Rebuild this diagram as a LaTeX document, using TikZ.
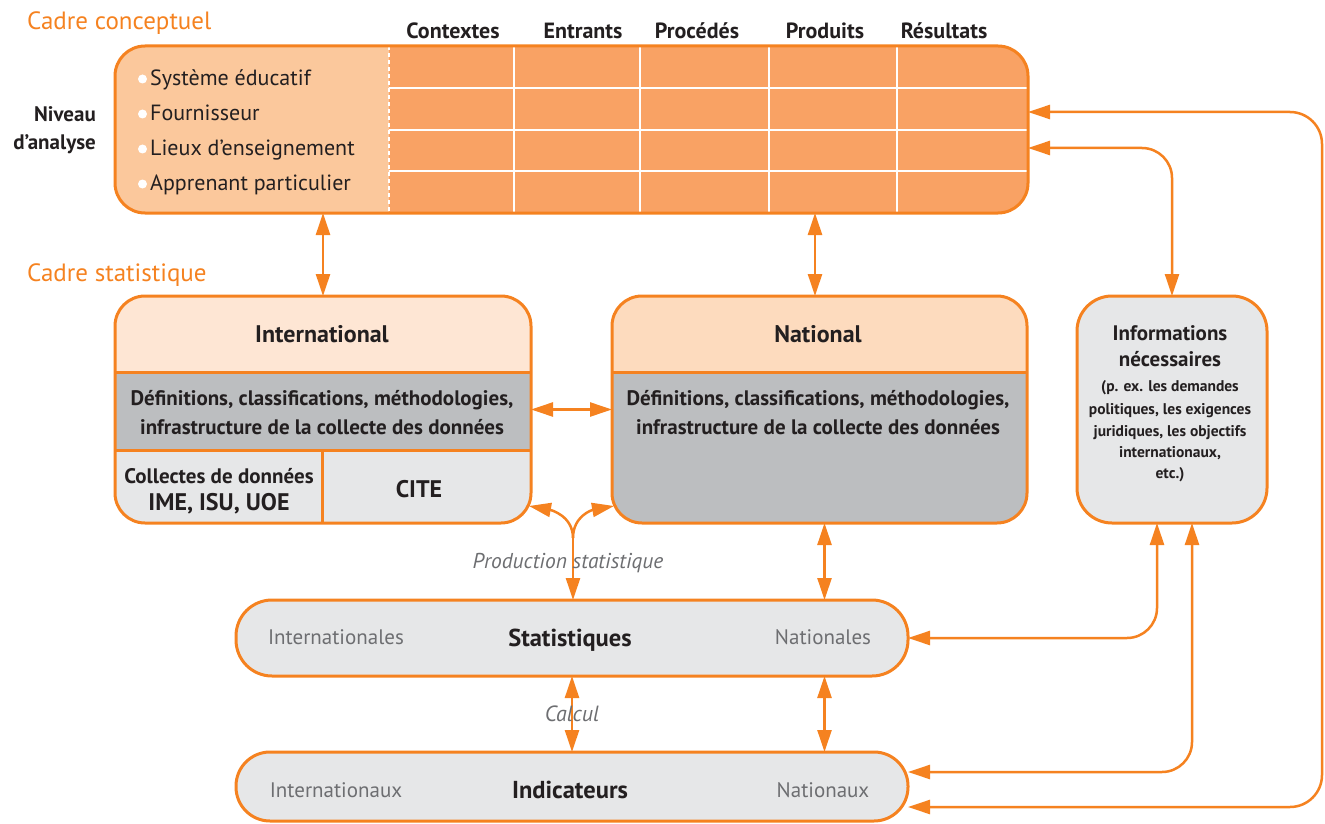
\documentclass[tikz,border=0pt]{standalone}
\usepackage{fontspec}
\setmainfont{PT Sans}
\usetikzlibrary{arrows.meta,calc}
\definecolor{orng}{HTML}{F58220}
\definecolor{gridor}{HTML}{F9A264}
\definecolor{leftor}{HTML}{FBC89C}
\definecolor{intlhead}{HTML}{FEE6D4}
\definecolor{nathead}{HTML}{FDDBBE}
\definecolor{dgray}{HTML}{BCBEC0}
\definecolor{lgray}{HTML}{E6E7E8}
\definecolor{txt}{HTML}{231F20}
\definecolor{graytxt}{HTML}{6D6E71}
\tikzset{
  boxframe/.style={draw=orng, line width=3pt, inner sep=0pt, outer sep=0pt},
  >={Triangle[length=22pt,width=14pt]},
  con/.style={draw=orng, line width=2.5pt},
  dbl/.style={con, <->},
  one/.style={con, ->},
  rs/.style={inner sep=0pt, text=txt, font=\fontsize{#1}{#1}\selectfont, text height=#1pt*0.7, text depth=0pt},
  bs/.style={rs=#1, font=\bfseries\fontsize{#1}{#1}\selectfont},
  its/.style={rs=#1, text=graytxt, font=\itshape\fontsize{#1}{#1}\selectfont},
  gs/.style={rs=#1, text=graytxt},
  ors/.style={rs=#1, text=orng},
  sep/.style={draw=orng, line width=3pt},
  wl/.style={draw=white, line width=2pt}
}
\begin{document}
\begin{tikzpicture}[x=1pt,y=-1pt]
\useasboundingbox (0,0) rectangle (1325,824);

% ---------- Cadre conceptuel box ----------
\begin{scope}
\clip[rounded corners=30pt] (115,46) rectangle (1028,213);
\fill[gridor] (115,46) rectangle (1028,213);
\fill[leftor] (115,46) rectangle (389,213);
\draw[wl] (389,88) -- (1028,88) (389,130) -- (1028,130) (389,171) -- (1028,171);
\draw[wl] (514,46) -- (514,213) (640,46) -- (640,213) (769,46) -- (769,213) (897,46) -- (897,213);
\draw[draw=white, line width=1.5pt, dash pattern=on 4pt off 3pt] (389,46) -- (389,213);
\end{scope}
\node[boxframe, rounded corners=30pt, minimum width=913pt, minimum height=167pt] (concept) at (571.5,129.5) {};

% ---------- International ----------
\begin{scope}
\clip[rounded corners=30pt] (115,296) rectangle (531,523);
\fill[intlhead] (115,296) rectangle (531,372);
\fill[dgray] (115,372) rectangle (531,450);
\fill[lgray] (115,450) rectangle (531,523);
\draw[sep] (115,372) -- (531,372) (115,450) -- (531,450) (322,450) -- (322,523);
\end{scope}
\node[boxframe, rounded corners=30pt, minimum width=416pt, minimum height=227pt] (intl) at (323,409.5) {};

% ---------- National ----------
\begin{scope}
\clip[rounded corners=30pt] (612,296) rectangle (1027,523);
\fill[nathead] (612,296) rectangle (1027,372);
\fill[dgray] (612,372) rectangle (1027,523);
\draw[sep] (612,372) -- (1027,372);
\end{scope}
\node[boxframe, rounded corners=30pt, minimum width=415pt, minimum height=227pt] (nat) at (819.5,409.5) {};

% ---------- Informations ----------
\node[boxframe, fill=lgray, rounded corners=35pt, minimum width=190pt, minimum height=227pt] (info) at (1172,409.5) {};

% ---------- Statistiques / Indicateurs ----------
\node[boxframe, fill=lgray, rounded corners=36pt, minimum width=672pt, minimum height=76pt] (stat) at (572,638) {};
\node[boxframe, fill=lgray, rounded corners=34pt, minimum width=672pt, minimum height=69pt] (indic) at (572,786.5) {};

% ---------- connectors ----------
\draw[dbl] (intl.north |- concept.south) -- (intl.north);
\draw[dbl] ([xshift=-4.5pt]nat.north |- concept.south) -- ([xshift=-4.5pt]nat.north);
\draw[dbl] (intl.east) -- (nat.west);
\draw[dbl, rounded corners=30pt] ($(concept.east)+(0,18.5)$) -| (info.north);
\coordinate (rt) at (1322,0);
\coordinate (ca) at ($(concept.east)+(0,-17.5)$);
\coordinate (ib) at ($(indic.east)+(0,20.5)$);
\draw[dbl, rounded corners=32pt] (ca) -| (rt |- ib) -- (ib);
\draw[dbl, rounded corners=30pt] ([xshift=-15pt]info.south) |- (stat.east);
\draw[dbl, rounded corners=30pt] ([xshift=20pt]info.south) |- ($(indic.east)+(0,-14.5)$);
\draw[dbl] ([xshift=5pt]nat.south) -- ([xshift=5pt]nat.south |- stat.north);
\draw[dbl] ([xshift=252.5pt]stat.south) -- ([xshift=252.5pt]indic.north);
\draw[dbl] (stat.south) -- (indic.north);
\coordinate (pj) at ($(stat.north)+(1,-62)$);
\draw[one] (pj) -- ([xshift=1pt]stat.north);
\draw[one] (pj) .. controls +(0,-22) and +(22,4) .. ($(intl.south east)+(-2,-17)$);
\draw[one] (pj) .. controls +(0,-22) and +(-22,4) .. ($(nat.south west)+(2,-17)$);

% ---------- texts ----------
\node[ors=25, anchor=west] (t-cc) at (27,21) {Cadre conceptuel};
\node[ors=25, anchor=west] (t-cs) at (27,273) {Cadre statistique};
\node[bs=22] (h1) at (453,31) {Contextes};
\node[bs=22] (h2) at (583,31) {Entrants};
\node[bs=22] (h3) at (697,31) {Procédés};
\node[bs=22] (h4) at (825,31) {Produits};
\node[bs=22] (h5) at (944,31) {Résultats};
\node[bs=21, anchor=east] (na1) at (96,114) {Niveau};
\node[bs=21, anchor=east] (na2) at (96,142) {d’analyse};
\foreach \yy/\tt [count=\i] in {78/Système éducatif,113/Fournisseur,148/Lieux d’enseignement,183/Apprenant particulier}{
  \fill[white] (142.5,\yy+1) circle (4.5pt);
  \node[rs=22, anchor=west] (li\i) at (150,\yy) {\tt};
}
\node[bs=24] (t-int) at (322,334) {International};
\node[bs=21] (t-id1) at (322,398) {Définitions, classifications, méthodologies,};
\node[bs=21] (t-id2) at (322,427) {infrastructure de la collecte des données};
\node[bs=21] (t-col) at (219,476) {Collectes de données};
\node[bs=24] (t-ime) at (219,502) {IME, ISU, UOE};
\node[bs=24] (t-cite) at (419,489) {CITE};
\node[bs=24] (t-nat) at (818,334) {National};
\node[bs=21] (t-nd1) at (818,398) {Définitions, classifications, méthodologies,};
\node[bs=21] (t-nd2) at (818,427) {infrastructure de la collecte des données};
\node[bs=21] (t-inf1) at (1170,333) {Informations};
\node[bs=21] (t-inf2) at (1170,359) {nécessaires};
\node[bs=15.5] (t-s1) at (1170,386) {(p. ex. les demandes};
\node[bs=15.5] (t-s2) at (1170,409) {politiques, les exigences};
\node[bs=15.5] (t-s3) at (1170,431) {juridiques, les objectifs};
\node[bs=15.5] (t-s4) at (1170,452) {internationaux,};
\node[bs=15.5] (t-s5) at (1170,473) {etc.)};
\node[its=21.5] (t-prod) at (568,561) {Production statistique};
\node[its=22] (t-calc) at (572,714) {Calcul};
\node[gs=21] (t-sint) at (336,637) {Internationales};
\node[bs=24.5] (t-stat) at (570,638) {Statistiques};
\node[gs=21] (t-snat) at (823,637) {Nationales};
\node[gs=21] (t-iint) at (336,790) {Internationaux};
\node[bs=24.5] (t-ind) at (570,790) {Indicateurs};
\node[gs=21] (t-inat) at (823,790) {Nationaux};
\end{tikzpicture}
\end{document}
